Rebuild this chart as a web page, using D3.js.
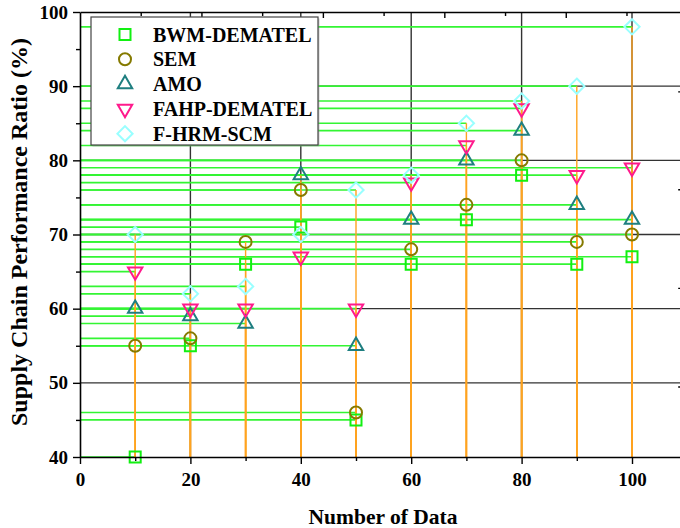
<!DOCTYPE html>
<html>
<head>
<meta charset="utf-8">
<script src="https://cdn.jsdelivr.net/npm/d3@7/dist/d3.min.js"></script>
<style>
  html, body { margin: 0; padding: 0; background: #fff; }
  svg { display: block; }
  text { font-family: "Liberation Serif", "Times New Roman", serif; font-weight: bold; fill: #000; }
</style>
</head>
<body>
<svg id="chart" width="680" height="528"></svg>
<script>
// ---------- data ----------
const xValues = [10, 20, 30, 40, 50, 60, 70, 80, 90, 100];
const seriesNames = ["BWM-DEMATEL", "SEM", "AMO", "FAHP-DEMATEL", "F-HRM-SCM"];
const bwmDematel = [40, 55, 66, 71, 45, 66, 72, 78, 66, 67];
const sem        = [55, 56, 69, 76, 46, 68, 74, 80, 69, 70];
const amo        = [60, 59, 58, 78, 55, 72, 80, 84, 74, 72];
const fahpDematel= [65, 60, 60, 67, 60, 77, 82, 87, 78, 79];
const fHrmScm    = [70, 62, 63, 70, 76, 78, 85, 88, 90, 98];
const xTickValues = [0, 20, 40, 60, 80, 100];
const xMinorTicks = [10, 30, 50, 70, 90];
const yTickValues = [40, 50, 60, 70, 80, 90, 100];
const yMinorTicks = [45, 55, 65, 75, 85, 95];
const topMajorTicks = [22, 44, 66, 88, 110];
const topMinorTicks = [11, 33, 55, 77, 99];
const rightTicks = [89.3, 76.1, 62.8, 49.5];
const xTitle = "Number of Data";
const yTitle = "Supply Chain Performance Ratio (%)";

// ---------- styles ----------
const colors = ["#12f012", "#857a00", "#1f7f80", "#ff1a8c", "#99ffff"];
const shapes = ["square", "circle", "triangleUp", "triangleDown", "diamond"];
const allSeries = [bwmDematel, sem, amo, fahpDematel, fHrmScm];

const svg = d3.select("#chart");
const x = d3.scaleLinear().domain([0, 110]).range([80, 687.2]);
const y = d3.scaleLinear().domain([40, 100]).range([457, 12]);

const points = [];
allSeries.forEach((vals, si) => {
  vals.forEach((v, i) => points.push({ s: si, x: xValues[i], y: v }));
});

// ---------- gridlines ----------
const grid = svg.append("g");
grid.selectAll(".vg").data([20, 40, 60, 80, 100]).join("line")
  .attr("x1", d => x(d)).attr("x2", d => x(d))
  .attr("y1", y(100)).attr("y2", y(40))
  .attr("stroke", "#333").attr("stroke-width", 1.4);
grid.selectAll(".hg").data([50, 60, 70, 80, 90]).join("line")
  .attr("x1", x(0)).attr("x2", x(110))
  .attr("y1", d => y(d)).attr("y2", d => y(d))
  .attr("stroke", "#333").attr("stroke-width", 1.4);

// ---------- drop lines ----------
svg.append("g").selectAll("line").data(points).join("line")
  .attr("x1", x(0)).attr("x2", d => x(d.x))
  .attr("y1", d => y(d.y)).attr("y2", d => y(d.y))
  .attr("stroke", "#33f533").attr("stroke-width", 1.6);
svg.append("g").selectAll("line").data(points).join("line")
  .attr("x1", d => x(d.x)).attr("x2", d => x(d.x))
  .attr("y1", d => y(d.y)).attr("y2", y(40))
  .attr("stroke", "#ffa31f").attr("stroke-width", 1.4);

// ---------- symbols ----------
function symbolPath(shape) {
  switch (shape) {
    case "square": { const h = 5.5; return `M${-h},${-h}H${h}V${h}H${-h}Z`; }
    case "circle": { const r = 6; return `M${r},0A${r},${r} 0 1,1 ${-r},0A${r},${r} 0 1,1 ${r},0Z`; }
    case "triangleUp": { const w = 7.2, hh = 12.4; return `M0,${-hh*2/3}L${w},${hh/3}L${-w},${hh/3}Z`; }
    case "triangleDown": { const w = 7.2, hh = 12.4; return `M0,${hh*2/3}L${w},${-hh/3}L${-w},${-hh/3}Z`; }
    case "diamond": { const r = 7.6; return `M0,${-r}L${r},0L0,${r}L${-r},0Z`; }
  }
}
allSeries.forEach((vals, si) => {
  svg.append("g").selectAll("path").data(points.filter(p => p.s === si)).join("path")
    .attr("transform", d => `translate(${x(d.x)},${y(d.y)})`)
    .attr("d", symbolPath(shapes[si]))
    .attr("fill", "none").attr("stroke", colors[si]).attr("stroke-width", 2);
});

// ---------- axes ----------
const axisG = svg.append("g").attr("class", "axes");
// bottom
axisG.append("g").attr("transform", `translate(0,${y(40)})`)
  .call(d3.axisBottom(x).tickValues(xTickValues).tickSize(7).tickPadding(9).tickSizeOuter(0).tickFormat(d3.format("d")));
axisG.append("g").attr("transform", `translate(0,${y(40)})`)
  .call(d3.axisBottom(x).tickValues(xMinorTicks).tickSize(4).tickFormat(""))
  .select(".domain").remove();
// left
axisG.append("g").attr("transform", `translate(${x(0)},0)`)
  .call(d3.axisLeft(y).tickValues(yTickValues).tickSize(7).tickPadding(5).tickSizeOuter(0).tickFormat(d3.format("d")));
axisG.append("g").attr("transform", `translate(${x(0)},0)`)
  .call(d3.axisLeft(y).tickValues(yMinorTicks).tickSize(4).tickFormat(""))
  .select(".domain").remove();
// top (inward ticks, no labels)
axisG.append("g").attr("transform", `translate(0,${y(100)})`)
  .call(d3.axisTop(x).tickValues(topMajorTicks).tickSize(-6).tickSizeOuter(0).tickFormat(""));
axisG.append("g").attr("transform", `translate(0,${y(100)})`)
  .call(d3.axisTop(x).tickValues(topMinorTicks).tickSize(-4).tickFormat(""))
  .select(".domain").remove();
// right axis (outside view; only inward ticks peek in)
axisG.append("g").attr("transform", `translate(${x(110) - 4},0)`)
  .call(d3.axisRight(y).tickValues(rightTicks).tickSize(-5).tickFormat(""))
  .select(".domain").remove();

axisG.selectAll(".domain").attr("stroke", "#000").attr("stroke-width", 1.6);
axisG.selectAll(".tick line").attr("stroke", "#000").attr("stroke-width", 1.4);
axisG.selectAll(".tick text").attr("font-family", "Liberation Serif, Times New Roman, serif")
  .attr("font-weight", "bold").attr("font-size", 19).attr("fill", "#000");

// ---------- titles ----------
svg.append("text").attr("x", 383).attr("y", 524).attr("text-anchor", "middle")
  .attr("font-size", 21.5).text(xTitle);
svg.append("text").attr("transform", `translate(27,232) rotate(-90)`)
  .attr("text-anchor", "middle").attr("font-size", 24).text(yTitle);

// ---------- legend ----------
const lg = svg.append("g").attr("transform", "translate(91,17)");
lg.append("rect").attr("x", 1.5).attr("y", 1.5).attr("width", 227).attr("height", 128)
  .attr("fill", "#999").attr("opacity", 0.5);
lg.append("rect").attr("width", 227).attr("height", 128)
  .attr("fill", "#fff").attr("stroke", "#444").attr("stroke-width", 1.2);
seriesNames.forEach((name, i) => {
  const row = lg.append("g").attr("transform", `translate(0,${17.5 + i * 24.8})`);
  row.append("path").attr("transform", "translate(34,0)").attr("d", symbolPath(shapes[i]))
    .attr("fill", "none").attr("stroke", colors[i]).attr("stroke-width", 2);
  row.append("text").attr("x", 62).attr("y", 7).attr("font-size", 20).text(name);
});
</script>
</body>
</html>
